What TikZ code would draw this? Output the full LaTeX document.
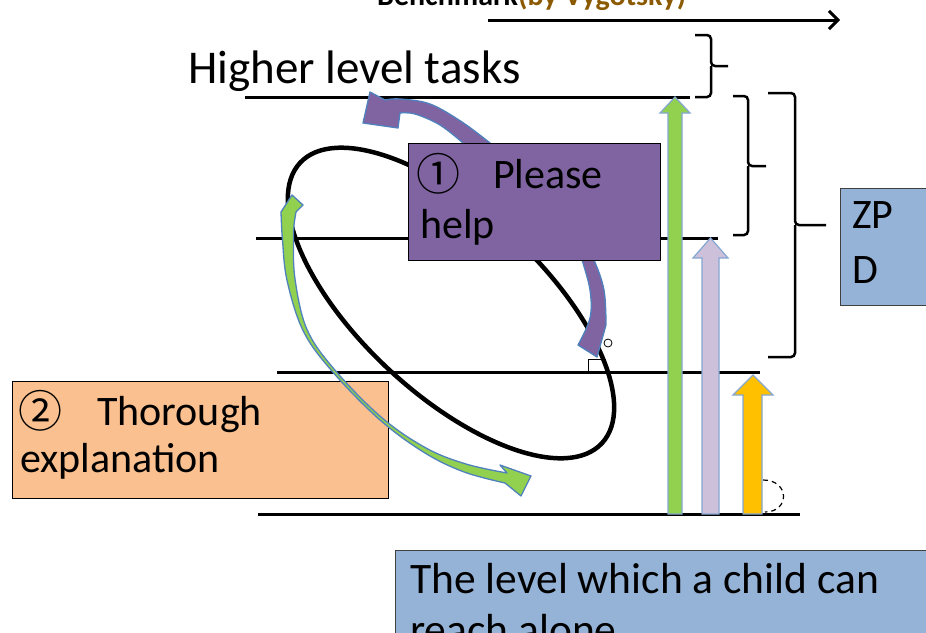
\documentclass[tikz,border=0pt]{standalone}
\usepackage{fontspec}
\setmainfont{Carlito}
\newfontfamily\circfont{Noto Sans CJK JP}
\usetikzlibrary{arrows.meta}
\definecolor{purp}{HTML}{8064A2}
\definecolor{orng}{HTML}{FAC090}
\definecolor{bluebox}{HTML}{95B3D7}
\definecolor{arrline}{HTML}{4F81BD}
\definecolor{grn}{HTML}{92D050}
\definecolor{lav}{HTML}{CCC0DA}
\definecolor{yel}{HTML}{FFC000}
\definecolor{titlebrown}{HTML}{8B5A00}
\begin{document}
\begin{tikzpicture}[x=1pt,y=-1pt,
  hline/.style={line width=3pt, black},
  boxstyle/.style={draw=black, line width=1.2pt, anchor=north west, inner sep=0pt},
  boxtext/.style={anchor=base west, inner sep=0pt, font=\fontsize{42}{50}\selectfont},
  circtext/.style={anchor=base west, inner sep=0pt, font=\circfont\fontsize{44}{50}\selectfont},
  vblock/.style={draw=arrline!70, line width=1.2pt, line join=miter},
  cblock/.style={draw=arrline, line width=1.3pt, line join=round},
  bracestyle/.style={line width=2.5pt, rounded corners=4pt},
]
\useasboundingbox (0,0) rectangle (926,632);
\clip (0,0) rectangle (926,632);
\fill[white] (0,0) rectangle (926,632);

% title (cut off at the top)
\node[anchor=base west, inner sep=0pt, font=\fontsize{30}{36}\selectfont\bfseries] (title) at (377,5) {Benchmark\textcolor{titlebrown}{(by Vygotsky)}};
\coordinate (ts) at (488,20);
\coordinate (te) at (840,20);
\draw[line width=3pt, -{Straight Barb[length=9pt,width=18pt]}] (ts) -- (te);

% heading
\node[anchor=base west, inner sep=0pt, font=\fontsize{47}{56}\selectfont] (hlt) at (188,83) {Higher level tasks};

% level lines
\coordinate (l1a) at (245,97);  \coordinate (l1b) at (690,97);
\coordinate (l2a) at (256,238); \coordinate (l2b) at (718,238);
\coordinate (l3a) at (277,372); \coordinate (l3b) at (760,372);
\coordinate (l4a) at (258,514); \coordinate (l4b) at (800,514);
\draw[hline] (l1a) -- (l1b);
\draw[hline] (l2a) -- (l2b);
\draw[hline] (l3a) -- (l3b);
\draw[hline] (l4a) -- (l4b);

% ellipse
\draw[line width=4.5pt, rotate around={-42.9:(451,303)}] (451,303) ellipse [x radius=206, y radius=91];

% small handle marks
\draw[line width=0.8pt] (588,372) |- (606,359);
\draw[line width=0.8pt] (608,343) circle [radius=4];
\draw[line width=1.2pt, dash pattern=on 5pt off 4pt] (763,480) .. controls (790,480) and (790,512) .. (765,512);

% orange box
\node[boxstyle, fill=orng, minimum width=376pt, minimum height=117pt] (obox) at (12,381) {};
\node[circtext] (o1) at (18,427) {②};
\node[boxtext] (o2) at (97,425) {Thorough};
\node[boxtext] (o3) at (20,472) {explanation};

% vertical block arrows
\filldraw[vblock, fill=grn] (668,514) -- (668,113) -- (660,113) -- (675,97) -- (690,113) -- (682,113) -- (682,514) -- cycle;
\filldraw[vblock, fill=lav] (702,514) -- (702,258) -- (693,258) -- (710.5,238) -- (728,258) -- (719,258) -- (719,514) -- cycle;
\filldraw[vblock, fill=yel] (743,514) -- (743,395) -- (733,395) -- (753,375) -- (773,395) -- (762,395) -- (762,514) -- cycle;

% purple curved arrow
\filldraw[cblock, fill=purp] (597,357) -- plot[smooth, tension=0.6] coordinates {(606,325) (604,290) (594,260) (585,245)}
  -- (500,155) -- plot[smooth, tension=0.6] coordinates {(490,143) (462,122) (430,104) (400,99) (385,100)}
  -- (370,92) -- (363,123) -- (398,128)
  -- plot[smooth, tension=0.6] coordinates {(400,113) (415,114) (440,125) (463,143)}
  -- (470,150) -- (572,245)
  -- plot[smooth, tension=0.6] coordinates {(582,260) (590,290) (590,318) (578,345)} -- cycle;

% purple box
\node[boxstyle, fill=purp, minimum width=252pt, minimum height=117pt] (pbox) at (408,143) {};
\node[circtext] (p1) at (416,190) {①};
\node[boxtext] (p2) at (493,188) {Please};
\node[boxtext] (p3) at (420,238) {help};

% green curved arrow
\filldraw[cblock, fill=grn] (292,195) -- (303,205)
  -- plot[smooth, tension=0.6] coordinates {(296,212) (294,225) (293.5,240) (295,279) (306.8,329) (334,369) (381,417) (426,448) (466,464) (507,473)}
  -- (500,465) -- (531,476) -- (521,496)
  -- plot[smooth, tension=0.6] coordinates {(505,483) (463.6,471.8) (423.7,452.2) (379,419.1) (331.9,371) (303.2,330.8) (287.1,280.7) (282.5,240) (281,212)} -- cycle;

% braces
\draw[bracestyle] (695,35) -| (711,66) -- (728,66);
\draw[bracestyle] (695,97) -| (711,66);
\draw[bracestyle] (733,96) -| (748,166) -- (766,166);
\draw[bracestyle] (733,235) -| (748,166);
\draw[bracestyle] (768,93) -| (795,225) -- (826,225);
\draw[bracestyle] (768,357) -| (795,225);

% ZPD box
\node[boxstyle, draw=black!75, fill=bluebox, minimum width=110pt, minimum height=117pt] (zbox) at (840,188) {};
\node[boxtext] (z1) at (852,228) {ZP};
\node[boxtext] (z2) at (852,283) {D};

% bottom box
\node[boxstyle, draw=black!75, fill=bluebox, minimum width=560pt, minimum height=120pt] (bbox) at (395,550) {};
\node[boxtext, font=\fontsize{43.5}{52}\selectfont] (b1) at (410,593) {The level which a child can};
\node[boxtext, font=\fontsize{43.5}{52}\selectfont] (b2) at (410,644) {reach alone};
\end{tikzpicture}
\end{document}
